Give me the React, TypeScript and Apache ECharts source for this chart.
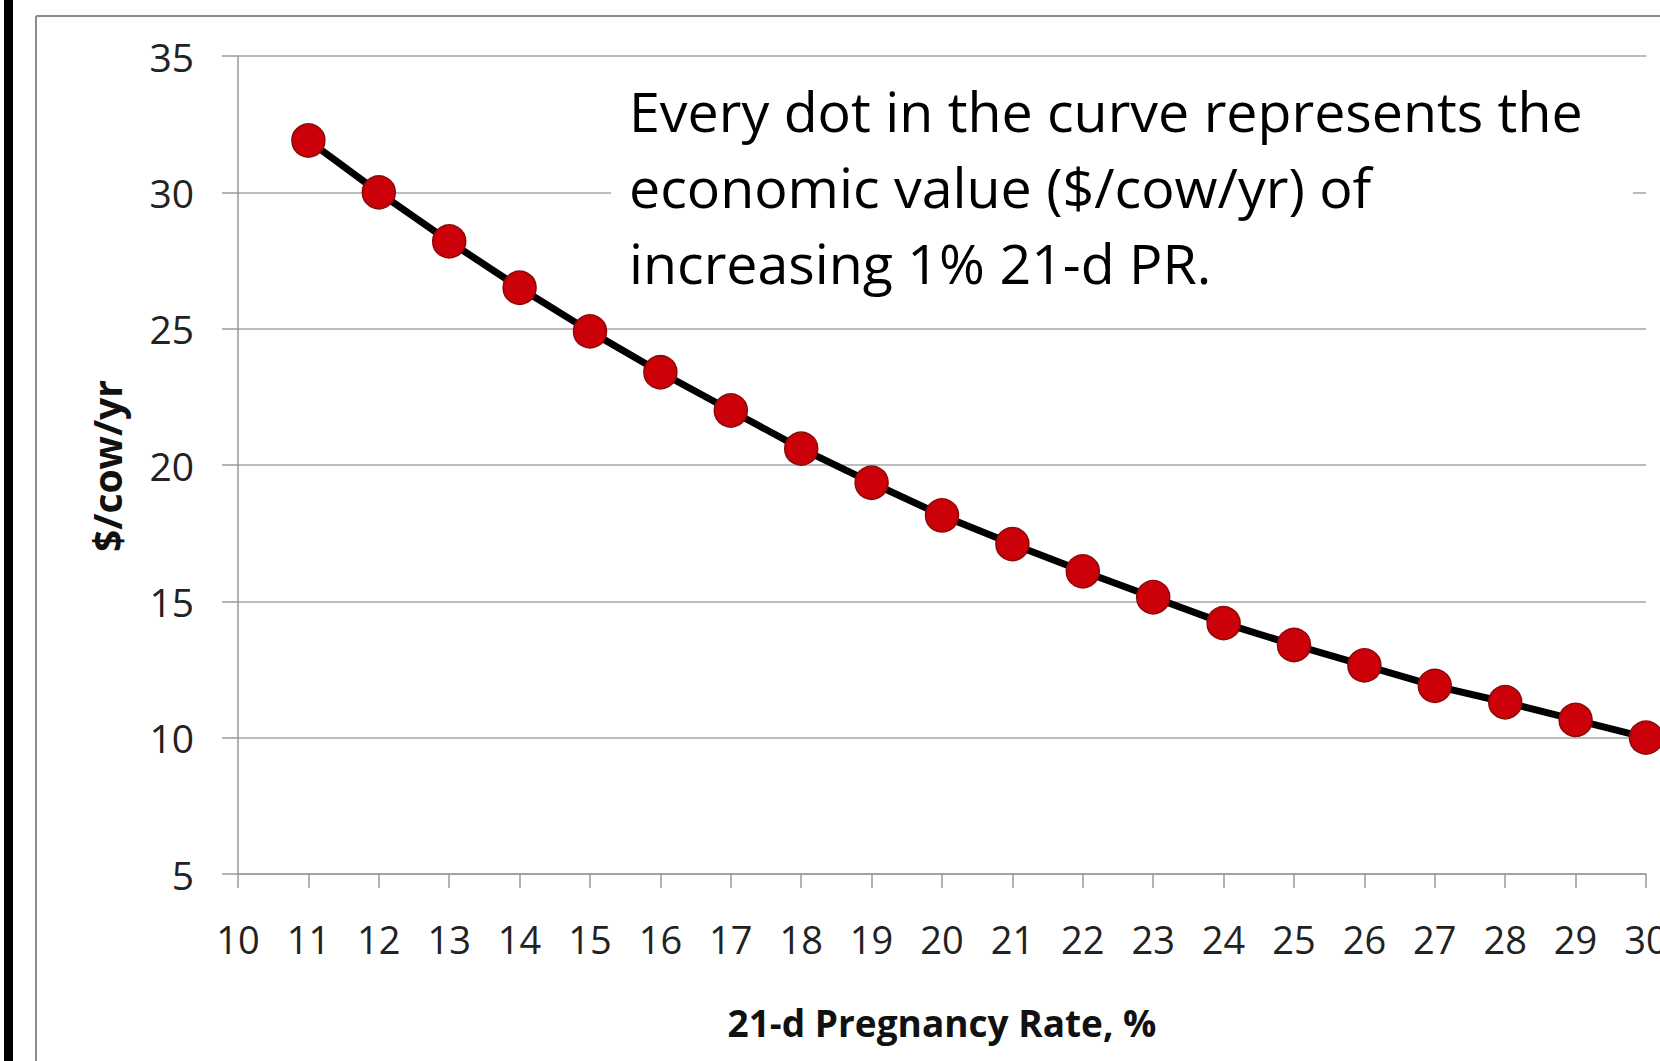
import React, { useEffect, useRef } from "react";
import * as echarts from "echarts";

const pregnancyRates = [11, 12, 13, 14, 15, 16, 17, 18, 19, 20, 21, 22, 23, 24, 25, 26, 27, 28, 29, 30];
const dollarsPerCowYr = [31.9, 30.0, 28.2, 26.5, 24.9, 23.4, 22.0, 20.6, 19.35, 18.15, 17.1, 16.1, 15.15, 14.2, 13.4, 12.65, 11.9, 11.3, 10.65, 10.0];
const annotationLines = [
  "Every dot in the curve represents the",
  "economic value ($/cow/yr) of",
  "increasing 1% 21-d PR.",
];
const xAxisName = "21-d Pregnancy Rate, %";
const yAxisName = "$/cow/yr";

const FONT = "'Open Sans', 'Noto Sans', sans-serif";

export default function App() {
  const ref = useRef<HTMLDivElement>(null);
  useEffect(() => {
    if (!ref.current) return;
    const chart = echarts.init(ref.current, undefined, { renderer: "svg" });
    const data = pregnancyRates.map((x, i) => [x, dollarsPerCowYr[i]]);
    chart.setOption({
      animation: false,
      backgroundColor: "#ffffff",
      grid: { left: 238, right: 14, top: 56, bottom: 187, containLabel: false, outerBoundsMode: "none" },
      xAxis: {
        type: "value",
        min: 10,
        max: 30,
        interval: 1,
        axisLine: { show: true, lineStyle: { color: "#9a9a9a", width: 1.5 } },
        axisTick: { show: true, length: 14, lineStyle: { color: "#9a9a9a", width: 1.5 } },
        splitLine: { show: false },
        axisLabel: { color: "#222", fontFamily: FONT, fontSize: 38, margin: 46, showMaxLabel: true, showMinLabel: true },
      },
      yAxis: {
        type: "value",
        min: 5,
        max: 35,
        interval: 5,
        axisLine: { show: true, lineStyle: { color: "#9a9a9a", width: 1.5 } },
        axisTick: { show: true, length: 16, lineStyle: { color: "#9a9a9a", width: 1.5 } },
        splitLine: { show: true, lineStyle: { color: "#a6a6a6", width: 1.5 } },
        axisLabel: { color: "#222", fontFamily: FONT, fontSize: 39, margin: 44 },
      },
      series: [
        {
          type: "line",
          data,
          symbol: "circle",
          symbolSize: 33,
          lineStyle: { color: "#000", width: 7 },
          itemStyle: { color: "#cc0008", borderColor: "#8a0a0a", borderWidth: 1.5 },
          z: 5,
        },
      ],
      graphic: [
        { type: "rect", shape: { x: 4, y: 0, width: 9, height: 1061 }, style: { fill: "#000" }, z: 100 },
        { type: "line", shape: { x1: 36, y1: 16, x2: 1660, y2: 16 }, style: { stroke: "#8c8c8c", lineWidth: 2 }, z: 100 },
        { type: "line", shape: { x1: 36, y1: 16, x2: 36, y2: 1061 }, style: { stroke: "#8c8c8c", lineWidth: 2 }, z: 100 },
        { type: "rect", shape: { x: 611, y: 72, width: 1022, height: 228 }, style: { fill: "#ffffff" }, z: 50 },
        ...annotationLines.map((t, i) => ({
          type: "text",
          x: 629,
          y: 138 + i * 76,
          z: 60,
          style: { text: t, fill: "#000", font: `55.5px ${FONT}`, align: "left", verticalAlign: "bottom" },
        })),
        {
          type: "text",
          x: 942,
          y: 1022,
          z: 60,
          style: { text: xAxisName, fill: "#111", font: `bold 37px ${FONT}`, align: "center", verticalAlign: "middle" },
        },
        {
          type: "text",
          x: 106,
          y: 466,
          rotation: Math.PI / 2,
          z: 60,
          style: { text: yAxisName, fill: "#111", font: `bold 39px ${FONT}`, align: "center", verticalAlign: "middle" },
        },
      ],
    });
    return () => chart.dispose();
  }, []);
  return <div ref={ref} style={{ position: "fixed", left: 0, top: 0, width: 1660, height: 1061 }} />;
}
